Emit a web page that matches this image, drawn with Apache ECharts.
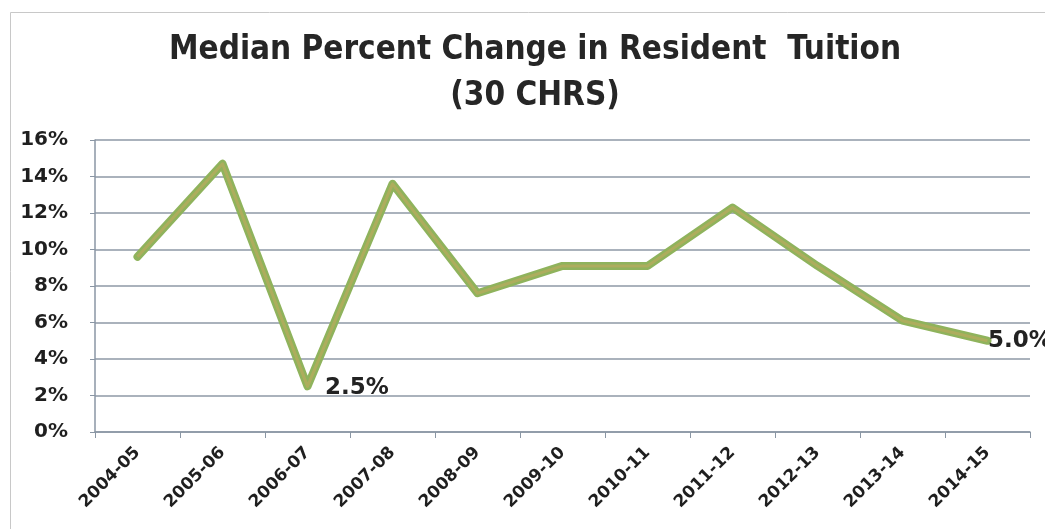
<!DOCTYPE html>
<html>
<head>
<meta charset="utf-8">
<script src="https://cdn.jsdelivr.net/npm/echarts@6/dist/echarts.min.js"></script>
<style>
  html, body { margin: 0; padding: 0; background: #fff; }
  #chart { width: 1045px; height: 529px; }
</style>
</head>
<body>
<div id="chart"></div>
<script>
// school years on the x axis
var years = ['2004-05', '2005-06', '2006-07', '2007-08', '2008-09', '2009-10',
             '2010-11', '2011-12', '2012-13', '2013-14', '2014-15'];
// median percent change
var pctChange = [9.6, 14.7, 2.5, 13.6, 7.6, 9.1, 9.1, 12.3, 9.1, 6.1, 5.0];
// points that carry a value label
var labelled = ['2006-07', '2014-15'];

var chart = echarts.init(document.getElementById('chart'));

var lineData = pctChange.map(function (v, i) {
    var item = { value: v };
    if (labelled.indexOf(years[i]) >= 0) {
        item.label = {
            show: true,
            position: 'right',
            offset: i === 2 ? [12, 2] : [-5, 0],
            formatter: function (p) { return p.value.toFixed(1) + '%'; },
            fontFamily: 'DejaVu Sans',
            fontWeight: 'bold',
            fontSize: 23,
            color: '#222'
        };
    }
    return item;
});

var option = {
    backgroundColor: '#fff',
    animation: false,
    title: {
        text: 'Median Percent Change in Resident  Tuition\n(30 CHRS)',
        left: 530,
        top: 22,
        textAlign: 'center',
        textStyle: {
            fontFamily: '"DejaVu Sans Condensed", "Open Sans", sans-serif',
            fontWeight: 'bold',
            fontSize: 33,
            lineHeight: 46,
            color: '#262626'
        }
    },
    graphic: [{
        type: 'rect',
        shape: { x: 10.5, y: 12.5, width: 1050, height: 530 },
        style: { fill: 'none', stroke: '#c8c8c8', lineWidth: 1 },
        silent: true
    }],
    grid: { left: 95, right: 15, top: 140, bottom: 97 },
    xAxis: {
        type: 'category',
        data: years,
        boundaryGap: true,
        axisLine: { lineStyle: { color: '#8a96a4', width: 1.5 } },
        axisTick: { show: true, length: 6, lineStyle: { color: '#8a96a4' } },
        axisLabel: {
            rotate: 45,
            margin: 18,
            fontFamily: 'DejaVu Sans',
            fontWeight: 'bold',
            fontSize: 17,
            color: '#1f1f1f'
        }
    },
    yAxis: {
        type: 'value',
        min: 0,
        max: 16,
        interval: 2,
        axisLine: { show: true, lineStyle: { color: '#8a96a4', width: 1.5 } },
        axisTick: { show: true, length: 5, lineStyle: { color: '#8a96a4' } },
        splitLine: { lineStyle: { color: '#8e98a6', width: 1.5 } },
        axisLabel: {
            formatter: '{value}%',
            margin: 27,
            fontFamily: 'DejaVu Sans',
            fontWeight: 'bold',
            fontSize: 20,
            color: '#1f1f1f'
        }
    },
    series: [{
        type: 'line',
        data: lineData,
        symbol: 'circle',
        symbolSize: 1,
        showSymbol: true,
        itemStyle: { color: '#8fb35c' },
        z: 3,
        lineStyle: { color: '#8fb35c', width: 8, cap: 'round', join: 'round' }
    }, {
        type: 'line',
        data: pctChange,
        symbol: 'none',
        z: 4,
        silent: true,
        lineStyle: { color: '#c2a95e', width: 3, opacity: 0.6, join: 'round' }
    }]
};

chart.setOption(option);
</script>
</body>
</html>
